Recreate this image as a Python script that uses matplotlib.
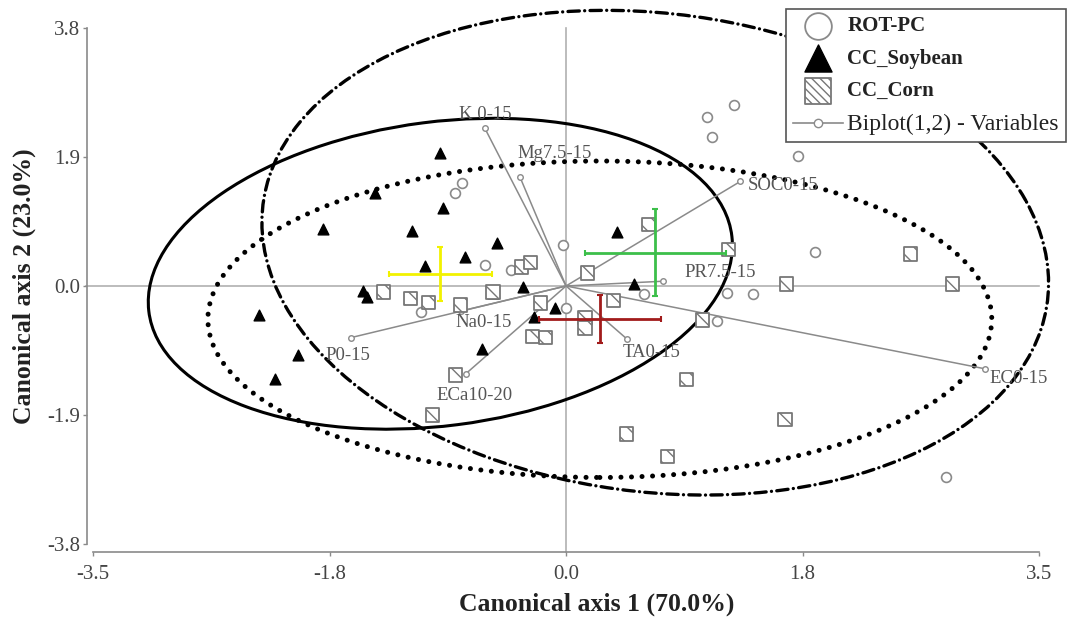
import numpy as np
import matplotlib.pyplot as plt
from matplotlib.patches import Ellipse
from matplotlib.lines import Line2D

plt.rcParams['font.family'] = ['Liberation Serif', 'DejaVu Serif']

# canonical scores, axis 1 / axis 2
rot_x = [-0.77, -0.82, -0.02, -0.60, -0.41, -1.07, 0.00, 0.58, 1.24, 1.04,
         1.08, 1.72, 1.84, 1.19, 1.38, 1.12, 2.81]
rot_y = [1.51, 1.37, 0.60, 0.31, 0.24, -0.38, -0.32, -0.12, 2.66, 2.49,
         2.19, 1.91, 0.50, -0.10, -0.12, -0.51, -2.81]

soy_x = [-0.93, -1.41, -0.91, -1.14, -1.80, -0.51, -0.75, -1.04, -1.50, -1.47,
         -0.54, -0.32, -2.27, -1.98, -2.15, -0.62, 0.38, 0.50, -0.08, -0.24]
soy_y = [1.96, 1.37, 1.15, 0.81, 0.84, 0.63, 0.43, 0.29, -0.07, -0.16,
         -0.10, -0.01, -0.43, -1.01, -1.37, -0.93, 0.79, 0.03, -0.32, -0.46]

corn_x = [-1.35, -1.15, -1.02, -0.78, -0.54, -0.33, -0.26, -0.19, -0.25, -0.15,
          -0.82, -0.99, 0.16, 0.61, 1.20, 1.63, 2.55, 2.86, 0.35, 0.14,
          0.14, 1.01, 0.89, 1.62, 0.45, 0.75]
corn_y = [-0.09, -0.18, -0.24, -0.28, -0.09, 0.28, 0.34, -0.25, -0.74, -0.76,
          -1.31, -1.90, 0.19, 0.91, 0.54, 0.03, 0.47, 0.03, -0.21, -0.46,
          -0.62, -0.50, -1.38, -1.97, -2.18, -2.51]

# group means with error bars: (x, y, xerr, yerr)
rot_mean = (0.66, 0.49, 0.52, 0.64)
soy_mean = (-0.93, 0.18, 0.38, 0.40)
corn_mean = (0.25, -0.49, 0.45, 0.35)

# confidence ellipses: var x, var y, cov xy
rot_ell = (8.47, 12.74, -1.3)
soy_ell = (4.67, 5.24, 0.9)
corn_ell = (8.41, 5.43, 0.0)

# biplot variables
var_names = ['K 0-15', 'Mg7.5-15', 'SOC0-15', 'PR7.5-15', 'EC0-15',
             'TA0-15', 'Na0-15', 'P0-15', 'ECa10-20']
var_x = [-0.60, -0.34, 1.29, 0.72, 3.10, 0.45, -0.78, -1.59, -0.74]
var_y = [2.32, 1.60, 1.54, 0.07, -1.22, -0.78, -0.37, -0.76, -1.29]
lab_off = [(0, 10, 'center'), (-2, 17, 'left'), (5, -3, 'left'), (15, 6, 'left'),
           (3, -7, 'left'), (-3, -10, 'left'), (-4, -8, 'left'), (-2, -13, 'center'),
           (6, -16, 'center')]


def ellipse(ax, mean, ell, **kw):
    sxx, syy, sxy = ell
    vals, vecs = np.linalg.eigh(np.array([[sxx, sxy], [sxy, syy]]))
    ang = np.degrees(np.arctan2(vecs[1, 1], vecs[0, 1]))
    e = Ellipse((mean[0], mean[1]), 2 * np.sqrt(vals[1]), 2 * np.sqrt(vals[0]),
                angle=ang, fill=False, edgecolor='black', clip_on=False, **kw)
    ax.add_patch(e)
    return e


fig = plt.figure(figsize=(10.69, 6.21), dpi=100)
ax = fig.add_axes([0.087, 0.124, 0.885, 0.831])

ax.set_xlim(-3.5, 3.5)
ax.set_ylim(-3.8, 3.8)

gray = '#8a8a8a'
ax.axhline(0, xmin=-0.007, xmax=1, color='#b0b0b0', lw=1.2, clip_on=False, zorder=1)
ax.axvline(0, ymin=-0.016, ymax=1, color='#b0b0b0', lw=1.2, clip_on=False, zorder=1)

e1 = ellipse(ax, soy_mean, soy_ell, lw=2.2)
e2 = ellipse(ax, corn_mean, corn_ell, lw=3.6, linestyle=(0, (0.01, 2.1)))
e2.set_capstyle('round')
e3 = ellipse(ax, rot_mean, rot_ell, lw=2.4, linestyle=(0, (3.4, 1.6, 0.01, 1.6)))
e3.set_capstyle('round')

for name, vx, vy, (dx, dy, ha) in zip(var_names, var_x, var_y, lab_off):
    ax.plot([0, vx], [0, vy], color=gray, lw=1.1, zorder=2)
    ax.plot(vx, vy, 'o', ms=4, mfc='white', mec=gray, mew=1, zorder=3)
    ax.annotate(name, (vx, vy), xytext=(dx, dy), textcoords='offset points',
                ha=ha, va='center', fontsize=13.5, color='#555555', zorder=6)

ax.scatter(rot_x, rot_y, s=50, marker='o', facecolors='white', edgecolors=gray,
           linewidths=1.2, zorder=4)
ax.scatter(soy_x, soy_y, s=60, marker='^', color='black', zorder=4)
ax.scatter(corn_x, corn_y, s=90, marker='s', facecolors='white', edgecolors='#777777',
           linewidths=1.3, hatch='\\\\', zorder=4)

for m, c in [(soy_mean, '#f2f200'), (rot_mean, '#3cbf4a'), (corn_mean, '#a11b1b')]:
    ax.errorbar(m[0], m[1], xerr=m[2], yerr=m[3], fmt='none', ecolor=c,
                elinewidth=2, capsize=2.5, capthick=1.5, zorder=5)

for s in ['top', 'right']:
    ax.spines[s].set_visible(False)
ax.spines['left'].set_position(('outward', 4.3))
ax.spines['bottom'].set_position(('outward', 5.8))
for s in ['left', 'bottom']:
    ax.spines[s].set_color(gray)
    ax.spines[s].set_linewidth(1.2)

ax.set_xticks([-3.5, -1.75, 0, 1.75, 3.5])
ax.set_xticklabels(['-3.5', '-1.8', '0.0', '1.8', '3.5'])
ax.set_yticks([-3.8, -1.9, 0, 1.9, 3.8])
ax.set_yticklabels(['-3.8', '-1.9', '0.0', '1.9', '3.8'])
ax.tick_params(direction='out', length=3, width=1, color=gray,
               labelsize=15, labelcolor='#444444')
ax.tick_params(axis='x', pad=6)
ax.tick_params(axis='y', pad=2)

ax.set_xlabel('Canonical axis 1 (70.0%)', fontsize=18.5, fontweight='bold',
              color='#222222')
ax.xaxis.set_label_coords(0.532, -0.094)
ax.set_ylabel('Canonical axis 2 (23.0%)', fontsize=18.5, fontweight='bold',
              color='#222222', labelpad=8)

h1 = ax.scatter([], [], s=370, marker='o', facecolors='white', edgecolors=gray, linewidths=1.3)
h2 = ax.scatter([], [], s=380, marker='^', color='black')
h3 = ax.scatter([], [], s=360, marker='s', facecolors='white', edgecolors='#777777',
                linewidths=1.3, hatch='\\\\\\\\')
h4 = Line2D([], [], color=gray, lw=1.2, marker='o', ms=6, mfc='white', mec=gray)
leg = ax.legend([h1, h2, h3, h4],
                ['ROT-PC', 'CC_Soybean', 'CC_Corn', 'Biplot(1,2) - Variables'],
                loc='upper right', bbox_to_anchor=(0.9972, 0.9855),
                bbox_transform=fig.transFigure, fontsize=15, fancybox=False,
                framealpha=1, edgecolor='#555555', borderaxespad=0, borderpad=0.35,
                labelspacing=0.6, handlelength=2.4, handletextpad=0.2,
                scatterpoints=1)
leg.get_frame().set_linewidth(1.2)
for i, t in enumerate(leg.get_texts()):
    t.set_color('#222222')
    if i < 3:
        t.set_fontweight('bold')
    else:
        t.set_fontsize(17)

fig.savefig('out.png', dpi=100)
